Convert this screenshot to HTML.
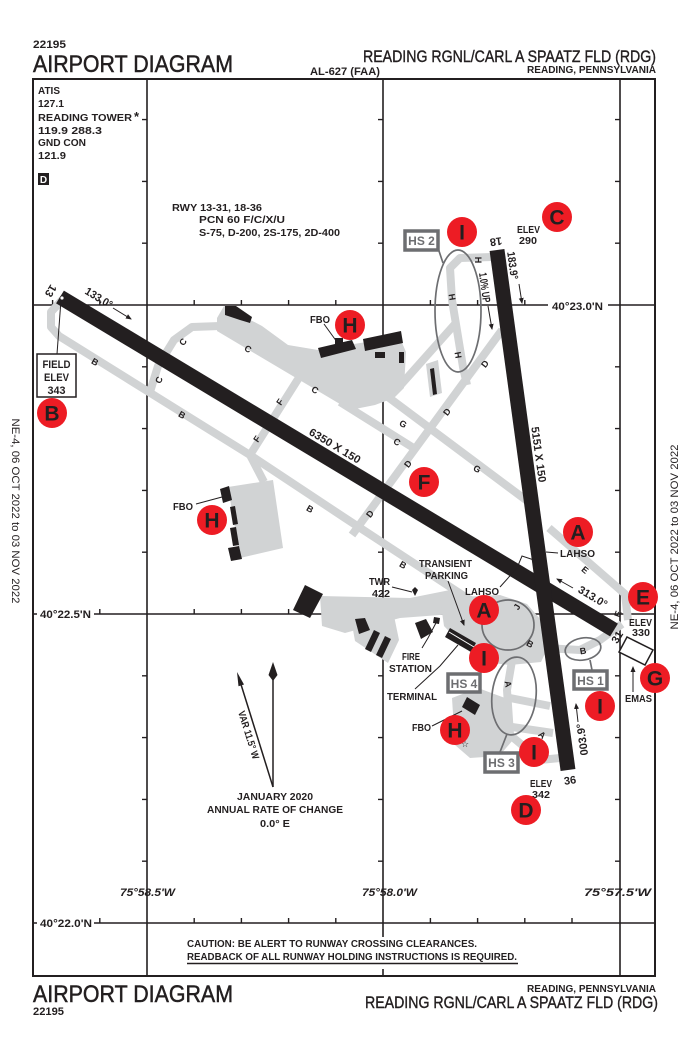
<!DOCTYPE html>
<html><head><meta charset="utf-8">
<style>
html,body{margin:0;padding:0;background:#fff;}
svg{display:block;}
text{font-family:"Liberation Sans",Arial,sans-serif;fill:#231f20;}
.b{font-weight:bold;}
.s{font-size:10px;font-weight:bold;}
.tw{font-size:9px;font-weight:bold;text-anchor:middle;}
.bd{fill:#fff;font-size:21px;font-weight:bold;text-anchor:middle;}
.hs{fill:#6d6e71;font-size:12px;font-weight:bold;text-anchor:middle;}
.c{text-anchor:middle;}
</style></head><body>
<svg width="689" height="1056" viewBox="0 0 689 1056" xmlns="http://www.w3.org/2000/svg">
<defs>
<marker id="ah" markerWidth="6" markerHeight="6" refX="5" refY="3" orient="auto" markerUnits="userSpaceOnUse"><path d="M0,0.5 L6,3 L0,5.5 z" fill="#231f20"/></marker>
</defs>
<rect width="689" height="1056" fill="#fff"/>

<!-- header -->
<text x="33" y="48" class="b" font-size="11" textLength="33" lengthAdjust="spacingAndGlyphs">22195</text>
<text x="33" y="72" font-size="24" stroke="#231f20" stroke-width="0.5" textLength="200" lengthAdjust="spacingAndGlyphs">AIRPORT DIAGRAM</text>
<text x="310" y="75" class="b" font-size="11" textLength="70" lengthAdjust="spacingAndGlyphs">AL-627 (FAA)</text>
<text x="363" y="62" font-size="17" stroke="#231f20" stroke-width="0.4" textLength="293" lengthAdjust="spacingAndGlyphs">READING RGNL/CARL A SPAATZ FLD (RDG)</text>
<text x="527" y="73" class="b" font-size="10.5" textLength="129" lengthAdjust="spacingAndGlyphs">READING, PENNSYLVANIA</text>

<!-- grid -->
<g stroke="#231f20" stroke-width="1.6" fill="none">
<line x1="147" y1="79" x2="147" y2="976"/>
<line x1="383" y1="79" x2="383" y2="937"/>
<line x1="383" y1="969" x2="383" y2="976"/>
<line x1="620" y1="79" x2="620" y2="976"/>
<line x1="33" y1="305" x2="655" y2="305"/>
<line x1="33" y1="614" x2="655" y2="614"/>
<line x1="33" y1="923" x2="655" y2="923"/>
<path stroke-width="1.4" d="M142 119.6H147M142 181.4H147M142 243.2H147M142 366.8H147M142 428.6H147M142 490.4H147M142 552.2H147M142 675.8H147M142 737.6H147M142 799.4H147M142 861.2H147
M378 119.6H383M378 181.4H383M378 243.2H383M378 366.8H383M378 428.6H383M378 490.4H383M378 552.2H383M378 675.8H383M378 737.6H383M378 799.4H383M378 861.2H383
M615 119.6H620M615 181.4H620M615 243.2H620M615 366.8H620M615 428.6H620M615 490.4H620M615 552.2H620M615 675.8H620M615 737.6H620M615 799.4H620M615 861.2H620
M52.6 305V300M99.8 305V300M194.2 305V300M241.4 305V300M288.6 305V300M335.8 305V300M430.4 305V300M477.6 305V300M524.8 305V300
M99.8 614V609M194.2 614V609M241.4 614V609M288.6 614V609M335.8 614V609M430.4 614V609M477.6 614V609M524.8 614V609M572 614V609
M99.8 923V918M194.2 923V918M241.4 923V918M288.6 923V918M335.8 923V918M430.4 923V918M477.6 923V918M524.8 923V918M572 923V918"/>
</g>
<rect x="33" y="79" width="622" height="897" fill="none" stroke="#231f20" stroke-width="2"/>

<!-- lat/long labels -->
<rect x="548" y="299" width="60" height="12" fill="#fff"/>
<text x="552" y="310" class="b" font-size="11" textLength="51" lengthAdjust="spacingAndGlyphs">40°23.0'N</text>
<rect x="37" y="608" width="57" height="12" fill="#fff"/>
<text x="40" y="618" class="b" font-size="11" textLength="51" lengthAdjust="spacingAndGlyphs">40°22.5'N</text>
<rect x="37" y="917" width="57" height="12" fill="#fff"/>
<text x="40" y="927" class="b" font-size="11" textLength="52" lengthAdjust="spacingAndGlyphs">40°22.0'N</text>
<text x="120" y="896" class="b" font-size="11" font-style="italic" textLength="55" lengthAdjust="spacingAndGlyphs">75°58.5'W</text>
<text x="362" y="896" class="b" font-size="11" font-style="italic" textLength="55" lengthAdjust="spacingAndGlyphs">75°58.0'W</text>
<text x="584" y="896" class="b" font-size="11" font-style="italic" textLength="67" lengthAdjust="spacingAndGlyphs">75°57.5'W</text>

<!-- info block -->
<g class="s" font-size="10.5">
<text x="38" y="94" textLength="22" lengthAdjust="spacingAndGlyphs">ATIS</text>
<text x="38" y="107" textLength="26" lengthAdjust="spacingAndGlyphs">127.1</text>
<text x="38" y="121" textLength="94" lengthAdjust="spacingAndGlyphs">READING TOWER</text>
<text x="38" y="134" textLength="64" lengthAdjust="spacingAndGlyphs">119.9  288.3</text>
<text x="38" y="146" textLength="48" lengthAdjust="spacingAndGlyphs">GND CON</text>
<text x="38" y="159" textLength="28" lengthAdjust="spacingAndGlyphs">121.9</text>
</g>
<text x="134" y="121" class="b" font-size="13">*</text>
<rect x="38" y="173" width="11" height="12" fill="#231f20"/>
<text x="43.5" y="183" class="b c" font-size="10" style="fill:#fff">D</text>

<g class="s" font-size="10.5">
<text x="172" y="211" textLength="90" lengthAdjust="spacingAndGlyphs">RWY 13-31, 18-36</text>
<text x="199" y="223" textLength="86" lengthAdjust="spacingAndGlyphs">PCN 60 F/C/X/U</text>
<text x="199" y="236" textLength="141" lengthAdjust="spacingAndGlyphs">S-75, D-200, 2S-175, 2D-400</text>
</g>

<!-- side text -->
<text transform="translate(678,537) rotate(-90)" class="c" font-size="11" textLength="185" lengthAdjust="spacingAndGlyphs">NE-4, 06 OCT 2022 to 03 NOV 2022</text>
<text transform="translate(12,511) rotate(90)" class="c" font-size="11" textLength="185" lengthAdjust="spacingAndGlyphs">NE-4, 06 OCT 2022 to 03 NOV 2022</text>

<!-- gray taxiways -->
<g fill="#d1d3d4">
<polygon points="217,318 224,306 262,326 288,345 318,350 360,343 400,338 406,352 404,388 394,398 375,405 350,410 217,331"/>
<polygon points="228,487 273,480 283,548 240,558"/>
<polygon points="426,364 438,360 442,393 430,397"/>
<polygon points="320,596 410,598 450,590 472,596 480,612 400,618 345,633 322,626"/>
<polygon points="350,613 393,611 399,640 388,663 355,641"/>
<polygon points="440,598 500,595 527,604 541,620 549,645 541,662 510,665 482,662 462,645 444,626"/>
<polygon points="452,698 478,688 505,698 513,740 499,756 470,758 455,745"/>
</g>
<g stroke="#d1d3d4" stroke-width="8" fill="none" stroke-linejoin="round">
<polyline points="62,300 51,312 51,327 59,336 250,455 345,518 470,600"/>
<polyline points="150,392 158,366 174,340 192,327 220,326"/>
<polyline points="340,402 412,447"/>
<polyline points="300,376 250,455 264,482"/>
<polyline points="388,397 530,503"/>
<polyline points="549,528 625,594 628,620"/>
<polyline points="502,330 352,535"/>
<polyline points="492,257 460,258 450,268 452,300 463,367 467,385"/>
<polyline points="398,388 455,324"/>
<polyline points="545,648 580,650 600,640 622,624"/>
<polyline points="513,655 507,690 510,735 540,760 560,758"/>
<polyline points="510,698 550,706"/>
<polyline points="512,727 553,733"/>
</g>

<!-- runways -->
<polygon points="63.9,290.6 56.1,303.4 610.1,636.4 617.9,623.6" fill="#231f20"/>
<polygon points="489.6,251 504.4,249 575.4,769 560.6,771" fill="#231f20"/>
<circle cx="62" cy="298" r="2" fill="#fff" stroke="#231f20" stroke-width="0.8"/>

<!-- buildings -->
<g fill="#231f20">
<polygon points="225,306 236,306 252,317 250,323 240,320 225,315"/>
<polygon points="318,348 352,340 356,349 321,358"/>
<rect x="335" y="338" width="8" height="6"/>
<polygon points="363,339 401,331 403,343 365,351"/>
<rect x="375" y="352" width="10" height="6"/>
<rect x="399" y="352" width="5" height="11"/>
<polygon points="430,369 434,368 437,394 433,395"/>
<polygon points="220,489 229,486 232,500 223,503"/>
<polygon points="230,507 235,506 238,524 233,525"/>
<polygon points="230,528 236,527 239,545 233,546"/>
<polygon points="228,548 239,546 242,559 231,561"/>
<polygon points="305,585 323,594 310,618 293,610"/>
<polygon points="355,619 365,618 370,630 359,634"/>
<polygon points="374,630 380,633 371,652 365,649"/>
<polygon points="385,636 391,639 382,658 376,655"/>
<polygon points="415,623 426,619 433,632 421,639"/>
<polygon points="434,617 440,618 439,624 433,623"/>
<polygon points="450,628 476,643 471,652 445,637"/>
<polygon points="467,697 480,705 475,715 462,707"/>
<polygon points="412,590 415,587 418,590 415,596"/>
</g>
<line x1="449" y1="632" x2="474" y2="647" stroke="#fff" stroke-width="1"/>
<text x="461" y="747" font-size="9" style="font-family:'DejaVu Sans',sans-serif">☆</text>

<!-- HS ellipses -->
<g fill="none" stroke="#6d6e71" stroke-width="1.7">
<ellipse cx="458" cy="311" rx="23" ry="61"/>
<ellipse cx="508" cy="625" rx="26" ry="25"/>
<ellipse cx="514" cy="696" rx="22" ry="39" transform="rotate(6 514 696)"/>
<ellipse cx="583" cy="649" rx="18" ry="11" transform="rotate(-10 583 649)"/>
<line x1="438" y1="248" x2="443" y2="263"/>
<line x1="590" y1="660" x2="592" y2="670"/>
<line x1="507" y1="734" x2="500" y2="752"/>
</g>
<g fill="#fff" stroke="#6d6e71" stroke-width="3.5">
<rect x="405" y="231" width="33" height="19"/>
<rect x="448" y="674" width="32" height="18"/>
<rect x="574" y="671" width="33" height="18"/>
<rect x="485" y="753" width="33" height="19"/>
</g>
<text x="421.5" y="245" class="hs">HS 2</text>
<text x="464" y="688" class="hs">HS 4</text>
<text x="590.5" y="685" class="hs">HS 1</text>
<text x="501.5" y="767" class="hs">HS 3</text>

<!-- runway labels -->
<g class="b" font-size="11">
<text transform="translate(333,449) rotate(31)" class="c" textLength="58" lengthAdjust="spacingAndGlyphs">6350 X 150</text>
<text transform="translate(535,455) rotate(82.2)" class="c" textLength="56" lengthAdjust="spacingAndGlyphs">5151 X 150</text>
<text transform="translate(97,301) rotate(31)" class="c" textLength="30" lengthAdjust="spacingAndGlyphs">133.0°</text>
<text transform="translate(591,600) rotate(31)" class="c" textLength="32" lengthAdjust="spacingAndGlyphs">313.0°</text>
<text transform="translate(509,266) rotate(82.2)" class="c" textLength="28" lengthAdjust="spacingAndGlyphs">183.9°</text>
<text transform="translate(481,288) rotate(82.2)" class="c" textLength="30" lengthAdjust="spacingAndGlyphs">1.0% UP</text>
<text transform="translate(586,739) rotate(-97.8)" class="c" textLength="32" lengthAdjust="spacingAndGlyphs">003.9°</text>
<text transform="translate(51,291) rotate(121)" class="c" y="4">13</text>
<text transform="translate(617,637) rotate(-59)" class="c" y="4">31</text>
<text transform="translate(496,242) rotate(172)" class="c" y="4">18</text>
<text transform="translate(570,780) rotate(-8)" class="c" y="4">36</text>
</g>
<g stroke="#231f20" stroke-width="1" marker-end="url(#ah)">
<line x1="113" y1="308" x2="131" y2="319"/>
<line x1="573" y1="588" x2="557" y2="579"/>
<line x1="519" y1="284" x2="522" y2="303"/>
<line x1="578" y1="722" x2="576" y2="704"/>
<line x1="488" y1="306" x2="492" y2="329"/>
</g>

<!-- taxiway letters -->
<g class="tw">
<text transform="translate(159,380) rotate(-65)" y="3">C</text>
<text transform="translate(183,342) rotate(-50)" y="3">C</text>
<text transform="translate(248,349) rotate(30)" y="3">C</text>
<text transform="translate(315,390) rotate(30)" y="3">C</text>
<text transform="translate(397,442) rotate(30)" y="3">C</text>
<text transform="translate(280,402) rotate(-55)" y="3">F</text>
<text transform="translate(257,439) rotate(-55)" y="3">F</text>
<text transform="translate(95,362) rotate(30)" y="3">B</text>
<text transform="translate(182,415) rotate(30)" y="3">B</text>
<text transform="translate(310,509) rotate(30)" y="3">B</text>
<text transform="translate(403,565) rotate(30)" y="3">B</text>
<text transform="translate(530,644) rotate(30)" y="3">B</text>
<text transform="translate(583,651) rotate(-10)" y="3">B</text>
<text transform="translate(403,424) rotate(30)" y="3">G</text>
<text transform="translate(477,469) rotate(30)" y="3">G</text>
<text transform="translate(485,364) rotate(-52)" y="3">D</text>
<text transform="translate(447,412) rotate(-52)" y="3">D</text>
<text transform="translate(408,464) rotate(-52)" y="3">D</text>
<text transform="translate(370,514) rotate(-52)" y="3">D</text>
<text transform="translate(478,260) rotate(90)" y="3">H</text>
<text transform="translate(452,297) rotate(80)" y="3">H</text>
<text transform="translate(458,355) rotate(80)" y="3">H</text>
<text transform="translate(585,570) rotate(40)" y="3">E</text>
<text transform="translate(618,614) rotate(-70)" y="3">E</text>
<text transform="translate(508,684) rotate(80)" y="3">A</text>
<text transform="translate(542,735) rotate(40)" y="3">A</text>
<text transform="translate(517,607) rotate(-60)" y="3">J</text>
</g>

<!-- labels & leaders -->
<g stroke="#231f20" stroke-width="1" fill="none">
<line x1="61" y1="300" x2="57" y2="354"/>
<line x1="324" y1="324" x2="337" y2="342"/>
<line x1="196" y1="504" x2="222" y2="497"/>
<line x1="432" y1="726" x2="462" y2="711"/>
<line x1="392" y1="587" x2="412" y2="592"/>
<line x1="448" y1="581" x2="464" y2="625" marker-end="url(#ah)"/>
<polyline points="500,587 517,568 522,556 534,560"/>
<line x1="558" y1="553" x2="546" y2="552"/>
<polyline points="422,648 428,638 437,621"/>
<polyline points="415,689 440,666 458,645"/>
<line x1="633" y1="692" x2="633" y2="667" marker-end="url(#ah)"/>
<polygon points="619,652 627,637 653,650 645,665" stroke-width="1.5" fill="#fff"/>
</g>
<rect x="37" y="354" width="39" height="43" fill="#fff" stroke="#231f20" stroke-width="1.5"/>
<g class="b c" font-size="11">
<text x="56.5" y="368" textLength="28" lengthAdjust="spacingAndGlyphs">FIELD</text>
<text x="56.5" y="381" textLength="25" lengthAdjust="spacingAndGlyphs">ELEV</text>
<text x="56.5" y="394" textLength="18" lengthAdjust="spacingAndGlyphs">343</text>
</g>
<g class="s">
<text x="310" y="323" textLength="20" lengthAdjust="spacingAndGlyphs">FBO</text>
<text x="173" y="510" textLength="20" lengthAdjust="spacingAndGlyphs">FBO</text>
<text x="412" y="731" textLength="19" lengthAdjust="spacingAndGlyphs">FBO</text>
<text x="369" y="585" textLength="21" lengthAdjust="spacingAndGlyphs">TWR</text>
<text x="372" y="597" textLength="18" lengthAdjust="spacingAndGlyphs">422</text>
<text x="419" y="567" textLength="53" lengthAdjust="spacingAndGlyphs">TRANSIENT</text>
<text x="425" y="579" textLength="43" lengthAdjust="spacingAndGlyphs">PARKING</text>
<text x="465" y="595" textLength="34" lengthAdjust="spacingAndGlyphs">LAHSO</text>
<text x="560" y="557" textLength="35" lengthAdjust="spacingAndGlyphs">LAHSO</text>
<text x="402" y="660" textLength="18" lengthAdjust="spacingAndGlyphs">FIRE</text>
<text x="389" y="672" textLength="43" lengthAdjust="spacingAndGlyphs">STATION</text>
<text x="387" y="700" textLength="50" lengthAdjust="spacingAndGlyphs">TERMINAL</text>
<text x="625" y="702" textLength="27" lengthAdjust="spacingAndGlyphs">EMAS</text>
<text x="517" y="233" textLength="23" lengthAdjust="spacingAndGlyphs">ELEV</text>
<text x="519" y="244" textLength="18" lengthAdjust="spacingAndGlyphs">290</text>
<text x="629" y="626" textLength="23" lengthAdjust="spacingAndGlyphs">ELEV</text>
<text x="632" y="636" textLength="18" lengthAdjust="spacingAndGlyphs">330</text>
<text x="530" y="787" textLength="22" lengthAdjust="spacingAndGlyphs">ELEV</text>
<text x="532" y="798" textLength="18" lengthAdjust="spacingAndGlyphs">342</text>
</g>

<!-- compass -->
<g stroke="#231f20" stroke-width="1.5">
<line x1="273" y1="787" x2="273" y2="668"/>
<line x1="273" y1="787" x2="239" y2="678"/>
</g>
<polygon points="273,662 277.5,675 273,681 268.5,675" fill="#231f20"/>
<polygon points="237,672 244,684.5 238.5,686.3" fill="#231f20"/>
<text transform="translate(245.5,736) rotate(72.6)" class="b c" font-size="10" textLength="50" lengthAdjust="spacingAndGlyphs">VAR 11.5° W</text>
<g class="s c" font-size="10.5">
<text x="275" y="800" textLength="76" lengthAdjust="spacingAndGlyphs">JANUARY 2020</text>
<text x="275" y="813" textLength="136" lengthAdjust="spacingAndGlyphs">ANNUAL RATE OF CHANGE</text>
<text x="275" y="827" textLength="30" lengthAdjust="spacingAndGlyphs">0.0° E</text>
</g>

<!-- badges -->
<g fill="#ed1c24">
<circle cx="52" cy="413" r="15"/>
<circle cx="350" cy="325" r="15"/>
<circle cx="462" cy="232" r="15"/>
<circle cx="557" cy="217" r="15"/>
<circle cx="424" cy="482" r="15"/>
<circle cx="212" cy="520" r="15"/>
<circle cx="578" cy="532" r="15"/>
<circle cx="484" cy="610" r="15"/>
<circle cx="643" cy="597" r="15"/>
<circle cx="484" cy="658" r="15"/>
<circle cx="655" cy="678" r="15"/>
<circle cx="600" cy="706" r="15"/>
<circle cx="455" cy="730" r="15"/>
<circle cx="534" cy="752" r="15"/>
<circle cx="526" cy="810" r="15"/>
</g>
<g class="bd">
<text x="52" y="420.5">B</text>
<text x="350" y="332.5">H</text>
<text x="462" y="239.5">I</text>
<text x="557" y="224.5">C</text>
<text x="424" y="489.5">F</text>
<text x="212" y="527.5">H</text>
<text x="578" y="539.5">A</text>
<text x="484" y="617.5">A</text>
<text x="643" y="604.5">E</text>
<text x="484" y="665.5">I</text>
<text x="655" y="685.5">G</text>
<text x="600" y="713.5">I</text>
<text x="455" y="737.5">H</text>
<text x="534" y="759.5">I</text>
<text x="526" y="817.5">D</text>
</g>

<!-- caution -->
<g class="s" font-size="10.5">
<text x="187" y="947" textLength="290" lengthAdjust="spacingAndGlyphs">CAUTION:  BE ALERT TO RUNWAY CROSSING CLEARANCES.</text>
<text x="187" y="960" textLength="330" lengthAdjust="spacingAndGlyphs">READBACK OF ALL RUNWAY HOLDING INSTRUCTIONS IS REQUIRED.</text>
</g>
<line x1="187" y1="963.5" x2="518" y2="963.5" stroke="#231f20" stroke-width="1.5"/>

<!-- footer -->
<text x="33" y="1002" font-size="24" stroke="#231f20" stroke-width="0.5" textLength="200" lengthAdjust="spacingAndGlyphs">AIRPORT DIAGRAM</text>
<text x="33" y="1015" class="b" font-size="11" textLength="31" lengthAdjust="spacingAndGlyphs">22195</text>
<text x="527" y="992" class="b" font-size="10.5" textLength="129" lengthAdjust="spacingAndGlyphs">READING, PENNSYLVANIA</text>
<text x="365" y="1008" font-size="17" stroke="#231f20" stroke-width="0.4" textLength="293" lengthAdjust="spacingAndGlyphs">READING RGNL/CARL A SPAATZ FLD (RDG)</text>
</svg>
</body></html>
